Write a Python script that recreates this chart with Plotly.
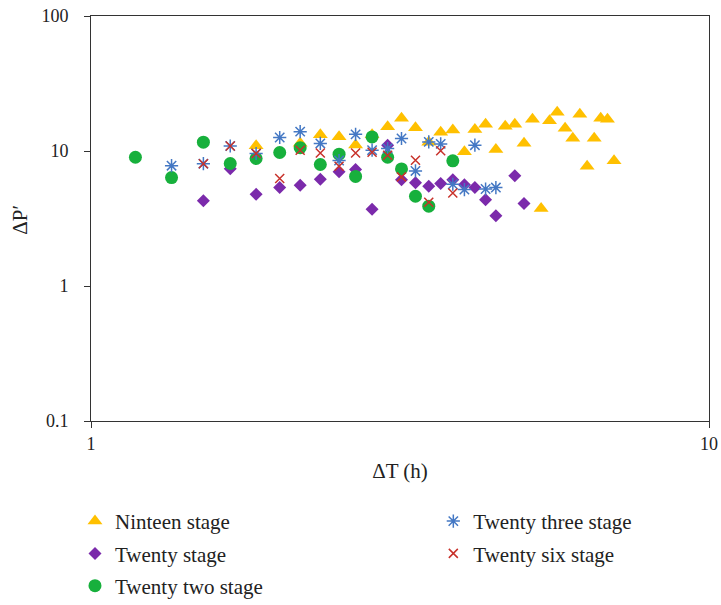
import plotly.graph_objects as go

# Elapsed time (h) and pressure-derivative values for each stage
dt_19 = [1.85, 2.18, 2.35, 2.52, 2.68, 2.85, 3.02, 3.18, 3.35, 3.52, 3.68, 3.85, 4.02,
         4.18, 4.35, 4.52, 4.68, 4.85, 5.02, 5.18, 5.35, 5.52, 5.68, 5.85, 6.02, 6.18,
         6.35, 6.52, 6.68, 6.85, 7.02]
dp_19 = [10.95, 11.39, 13.21, 12.77, 11.08, 13.21, 15.15, 17.45, 14.89, 11.62, 13.74,
         14.31, 9.88, 14.46, 15.75, 10.28, 15.28, 15.75, 11.39, 17.16, 3.75, 16.78, 19.33,
         14.72, 12.45, 18.75, 7.71, 12.41, 17.45, 17.22, 8.47]

dt_20 = [1.52, 1.68, 1.85, 2.02, 2.18, 2.35, 2.52, 2.68, 2.85, 3.02, 3.18, 3.35, 3.52,
         3.68, 3.85, 4.02, 4.18, 4.35, 4.52, 4.85, 5.02]
dp_20 = [4.28, 7.39, 4.78, 5.36, 5.58, 6.18, 7.02, 7.30, 3.70, 11.04, 6.12, 5.82, 5.48,
         5.74, 6.12, 5.62, 5.36, 4.35, 3.31, 6.56, 4.08]

dt_22 = [1.18, 1.35, 1.52, 1.68, 1.85, 2.02, 2.18, 2.35, 2.52, 2.68, 2.85, 3.02, 3.18,
         3.35, 3.52, 3.85]
dp_22 = [8.99, 6.36, 11.62, 8.08, 8.80, 9.75, 10.58, 7.94, 9.47, 6.48, 12.72, 8.99, 7.36,
         4.62, 3.90, 8.45]

dt_23 = [1.35, 1.52, 1.68, 1.85, 2.02, 2.18, 2.35, 2.52, 2.68, 2.85, 3.02, 3.18, 3.35,
         3.52, 3.68, 3.85, 4.02, 4.18, 4.35, 4.52]
dp_23 = [7.78, 8.05, 10.89, 9.58, 12.59, 13.91, 11.37, 8.50, 13.28, 10.14, 10.44, 12.38,
         7.12, 11.68, 11.29, 5.67, 5.18, 11.04, 5.23, 5.36]

dt_26 = [1.52, 1.68, 1.85, 2.02, 2.18, 2.35, 2.52, 2.68, 2.85, 3.02, 3.18, 3.35, 3.52,
         3.68, 3.85]
dp_26 = [8.05, 10.89, 9.58, 6.25, 10.14, 9.68, 7.71, 9.68, 9.80, 9.31, 6.43, 8.55, 4.17,
         10.05, 4.89]

x_ticks = [1, 10]
y_ticks = [0.1, 1, 10, 100]
y_ticktext = ["0.1", "1", "10", "100"]

FONT = "Liberation Serif"
INK = "#222222"

fig = go.Figure()

fig.add_trace(go.Scatter(
    x=dt_19, y=dp_19, mode="markers", name="Ninteen stage",
    marker=dict(symbol="triangle-up", size=13, color="#FFC000"),
    legend="legend", legendgroup="g19"))
fig.add_trace(go.Scatter(
    x=dt_20, y=dp_20, mode="markers", name="Twenty stage",
    marker=dict(symbol="diamond", size=10, color="#7B2AAB"),
    legend="legend", legendgroup="g20"))
fig.add_trace(go.Scatter(
    x=dt_22, y=dp_22, mode="markers", name="Twenty two stage",
    marker=dict(symbol="circle", size=13, color="#17B03C"),
    legend="legend", legendgroup="g22"))
fig.add_trace(go.Scatter(
    x=dt_23, y=dp_23, mode="markers", name="Twenty three stage",
    marker=dict(symbol="asterisk-open", size=11, color="#4478C4",
                line=dict(width=1.5, color="#4478C4")),
    legend="legend2", legendgroup="g23"))
fig.add_trace(go.Scatter(
    x=dt_26, y=dp_26, mode="markers", name="Twenty six stage",
    marker=dict(symbol="x-thin-open", size=9, color="#C8322B",
                line=dict(width=1.5, color="#C8322B")),
    legend="legend2", legendgroup="g26"))

axis_common = dict(
    type="log", showgrid=False, zeroline=False, showline=True, linecolor="#333333",
    linewidth=1, mirror=True, ticks="outside", ticklen=6, tickcolor="#333333",
    tickfont=dict(family=FONT, size=18, color=INK), automargin=True,
)

legend_common = dict(
    orientation="v", xanchor="left", yanchor="top", bgcolor="rgba(0,0,0,0)",
    xref="container", yref="container",
    font=dict(family=FONT, size=21, color=INK), tracegroupgap=2,
)

fig.update_layout(
    width=721, height=605,
    margin=dict(l=91, r=12, t=16, b=184, autoexpand=False),
    plot_bgcolor="white", paper_bgcolor="white",
    font=dict(family=FONT, size=18, color=INK),
    xaxis=dict(axis_common, range=[0, 1], tickvals=x_ticks,
               ticktext=[str(v) for v in x_ticks], ticklabelstandoff=0,
               title=dict(text="ΔT (h)", standoff=10,
                          font=dict(family=FONT, size=21, color=INK))),
    yaxis=dict(axis_common, range=[-1, 2], tickvals=y_ticks, ticktext=y_ticktext,
               ticklabelstandoff=12),
    legend=dict(legend_common, x=0.104, y=0.172),
    legend2=dict(legend_common, x=0.601, y=0.172),
)

# Vertical y-axis title placed to the left of the tick labels
fig.add_annotation(
    text="ΔP′", textangle=-90, xref="paper", yref="paper",
    x=-0.115, y=0.497, xanchor="center", yanchor="middle", showarrow=False,
    font=dict(family=FONT, size=21, color=INK),
)

fig.write_html("out.html")
